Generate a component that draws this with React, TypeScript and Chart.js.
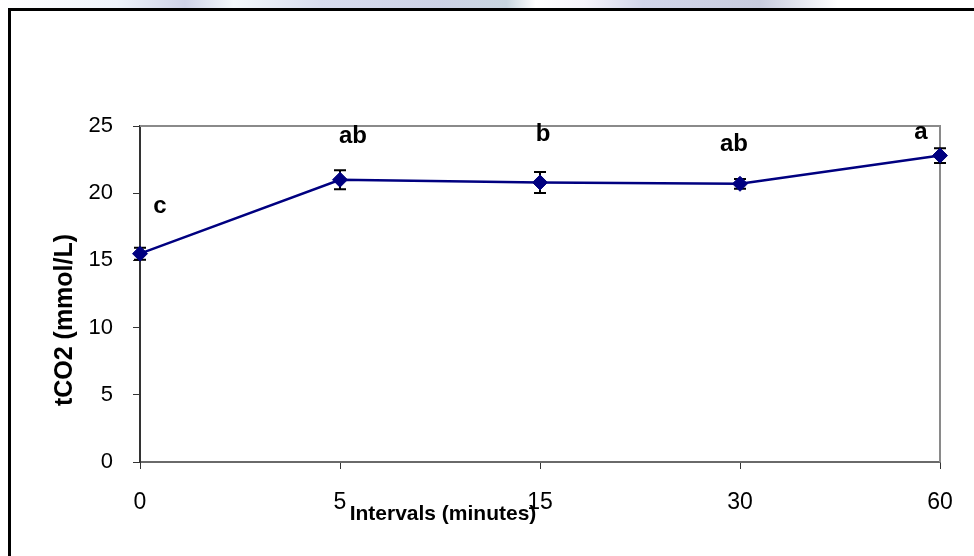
import React, { useEffect, useRef } from "react";
import { Chart, registerables } from "chart.js";

Chart.register(...registerables);

// ---- data ----
const categories = ["0", "5", "15", "30", "60"];
const tco2Means = [15.5, 21.0, 20.8, 20.7, 22.8];
const tco2Errors = [0.45, 0.7, 0.78, 0.36, 0.55];
const groupLetters = ["c", "ab", "b", "ab", "a"];
const letterLevels = [19.0, 24.2, 24.35, 23.65, 24.55];
const yTickValues = [0, 5, 10, 15, 20, 25];
const xAxisTitle = "Intervals (minutes)";
const yAxisTitle = "tCO2 (mmol/L)";

const FONT = "Arial, 'Liberation Sans', sans-serif";
const LETTER_DX = [20, 13, 3, -6, -19];

const annotatePlugin = {
  id: "annotate",
  beforeDatasetsDraw(chart: any) {
    const { ctx, scales, chartArea } = chart;
    const xs = scales.x;
    const ys = scales.y;
    ctx.save();
    // plot-area frame (top & right)
    ctx.strokeStyle = "#8a8a8a";
    ctx.lineWidth = 2;
    ctx.beginPath();
    ctx.moveTo(chartArea.left, chartArea.top);
    ctx.lineTo(chartArea.right, chartArea.top);
    ctx.lineTo(chartArea.right, chartArea.bottom);
    ctx.stroke();
    // error bars
    ctx.strokeStyle = "#000";
    ctx.lineWidth = 2;
    tco2Means.forEach((m, i) => {
      const x = xs.getPixelForValue(i);
      const yTop = ys.getPixelForValue(m + tco2Errors[i]);
      const yBot = ys.getPixelForValue(m - tco2Errors[i]);
      ctx.beginPath();
      ctx.moveTo(x, yTop);
      ctx.lineTo(x, yBot);
      ctx.moveTo(x - 6, yTop);
      ctx.lineTo(x + 6, yTop);
      ctx.moveTo(x - 6, yBot);
      ctx.lineTo(x + 6, yBot);
      ctx.stroke();
    });
    ctx.restore();
  },
  afterDraw(chart: any) {
    const { ctx, scales } = chart;
    const xs = scales.x;
    const ys = scales.y;
    ctx.save();
    ctx.fillStyle = "#000";
    ctx.textAlign = "center";
    ctx.textBaseline = "middle";
    ctx.font = `bold 24px ${FONT}`;
    groupLetters.forEach((l, i) => {
      ctx.fillText(l, xs.getPixelForValue(i) + LETTER_DX[i], ys.getPixelForValue(letterLevels[i]));
    });
    // x axis title
    ctx.font = `bold 21px ${FONT}`;
    ctx.textBaseline = "alphabetic";
    ctx.fillText(xAxisTitle, 443, 520);
    // y axis title
    ctx.translate(65, 320);
    ctx.rotate(-Math.PI / 2);
    ctx.font = `bold 25px ${FONT}`;
    ctx.textBaseline = "middle";
    ctx.fillText(yAxisTitle, 0, 0);
    ctx.restore();
  },
};

export default function App() {
  const ref = useRef<HTMLCanvasElement | null>(null);

  useEffect(() => {
    if (!ref.current) return;
    const chart = new Chart(ref.current, {
      type: "line",
      data: {
        labels: categories,
        datasets: [
          {
            data: tco2Means,
            borderColor: "#000080",
            backgroundColor: "#000080",
            borderWidth: 2.5,
            pointStyle: "rectRot",
            pointRadius: 7.5,
            pointHoverRadius: 7.5,
            pointBackgroundColor: "#000080",
            pointBorderColor: "#000080",
            pointBorderWidth: 1,
            tension: 0,
          },
        ],
      },
      options: {
        responsive: false,
        animation: false,
        events: [],
        layout: { padding: { left: 0, top: 126, right: 34, bottom: 0 } },
        plugins: {
          legend: { display: false },
          tooltip: { enabled: false },
          title: { display: false },
        },
        scales: {
          x: {
            type: "category",
            offset: false,
            afterFit: (s: any) => {
              s.height = 94;
            },
            grid: {
              offset: false,
              drawOnChartArea: false,
              drawTicks: true,
              tickLength: 7,
              color: "#333",
              lineWidth: 1,
            },
            border: { display: true, color: "#6a6a6a", width: 2 },
            ticks: {
              color: "#000",
              font: { family: FONT, size: 23 },
              padding: 20,
              maxRotation: 0,
              autoSkip: false,
            },
          },
          y: {
            min: 0,
            max: 25,
            afterFit: (s: any) => {
              s.width = 140;
            },
            afterBuildTicks: (s: any) => {
              s.ticks = yTickValues.map((v) => ({ value: v }));
            },
            grid: {
              drawOnChartArea: false,
              drawTicks: true,
              tickLength: 7,
              color: "#333",
              lineWidth: 1,
            },
            border: { display: true, color: "#333", width: 2 },
            ticks: {
              color: "#000",
              font: { family: FONT, size: 22 },
              padding: 20,
            },
            title: { display: false },
          },
        },
      },
      plugins: [annotatePlugin],
    } as any);
    return () => chart.destroy();
  }, []);

  return (
    <div
      style={{
        position: "fixed",
        left: 0,
        top: 0,
        width: 974,
        height: 556,
        overflow: "hidden",
        background: "#fff",
      }}
    >
      <div
        style={{
          position: "absolute",
          left: 0,
          top: 0,
          width: 974,
          height: 8,
          background:
            "linear-gradient(90deg, #ffffff 0%, #eef3fa 12%, #cfd3e8 19%, #f3f8fb 24%, #d8dcee 33%, #cdd2e6 45%, #c9d6e0 52%, #ffffff 55%, #f6f4fb 60%, #d2d6ea 66%, #c8ccde 78%, #ffffff 86%, #ffffff 100%)",
        }}
      />
      <div
        style={{
          position: "absolute",
          left: 8,
          top: 8,
          width: 980,
          height: 560,
          borderLeft: "3px solid #000",
          borderTop: "3px solid #000",
          boxSizing: "border-box",
        }}
      />
      <canvas
        ref={ref}
        width={974}
        height={556}
        style={{ position: "absolute", left: 0, top: 0, width: 974, height: 556 }}
      />
    </div>
  );
}
